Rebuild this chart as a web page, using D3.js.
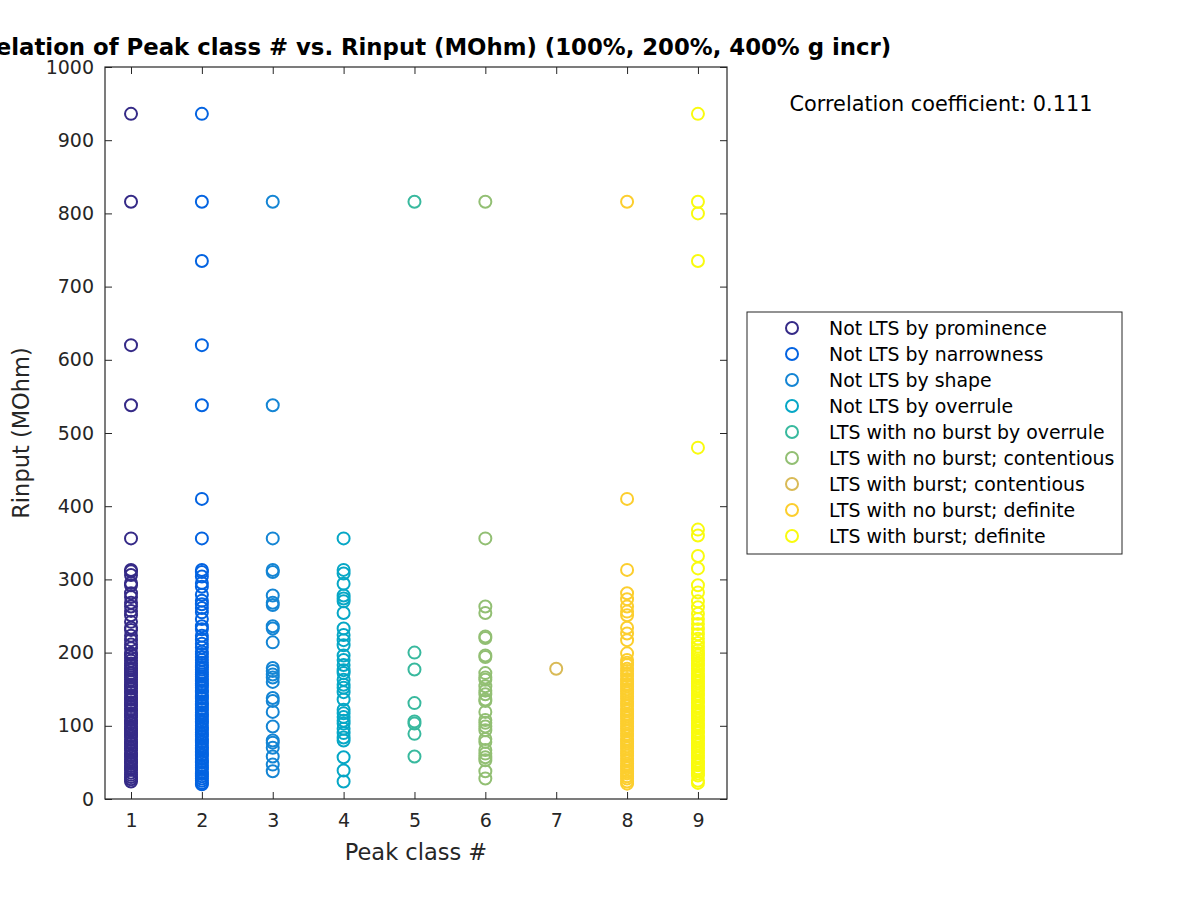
<!DOCTYPE html>
<html>
<head>
<meta charset="utf-8">
<script src="https://cdn.jsdelivr.net/npm/d3@7"></script>
<style>
  body { margin: 0; background: #fff; }
  svg { font-family: "DejaVu Sans", sans-serif; }
</style>
</head>
<body>
<svg id="chart" width="1200" height="900"></svg>
<script>
const classNames = [
  "Not LTS by prominence",
  "Not LTS by narrowness",
  "Not LTS by shape",
  "Not LTS by overrule",
  "LTS with no burst by overrule",
  "LTS with no burst; contentious",
  "LTS with burst; contentious",
  "LTS with no burst; definite",
  "LTS with burst; definite"
];

const classColors = ["#352A87", "#0363E1", "#1485D4", "#06A7C6", "#38B99E",
                     "#92BF73", "#D9BA56", "#FCCE2E", "#F9FB0E"];

const xTicks = [1, 2, 3, 4, 5, 6, 7, 8, 9];
const yTicks = [0, 100, 200, 300, 400, 500, 600, 700, 800, 900, 1000];

// Rinput values per peak class
const class1 = [936, 816, 620, 538, 356, 313, 311, 306, 295, 292, 281, 276, 268, 263, 257, 251,
  242, 234, 231, 223, 217, 211, 206, 199, 197, 193, 189, 185, 182, 179, 176, 172, 169, 166, 163,
  160, 156, 154, 151, 147, 145, 141, 138, 136, 132, 129, 127, 123, 121, 117, 114, 112, 108, 105,
  103, 99, 96, 94, 90, 87, 85, 81, 78, 76, 72, 69, 67, 63, 60, 58, 54, 51, 49, 45, 42, 40, 36,
  33, 30, 27, 24];
const class2 = [936, 816, 735, 620, 538, 410, 356, 313, 310, 304, 295, 290, 279, 271, 266, 261,
  255, 246, 236, 232, 223, 218, 212, 207, 201, 198, 194, 190, 186, 183, 180, 177, 173, 170, 167,
  164, 161, 157, 155, 152, 148, 146, 142, 139, 137, 133, 130, 128, 124, 122, 118, 115, 113, 109,
  106, 104, 100, 97, 95, 91, 88, 86, 82, 79, 77, 73, 70, 68, 64, 61, 59, 55, 52, 50, 46, 43,
  41, 37, 34, 31, 28, 25, 22, 20];
const class3 = [816, 538, 356, 313, 310, 278, 268, 265, 236, 233, 214, 179, 175, 170, 166, 160,
  138, 134, 119, 99, 80, 77, 70, 58, 47, 38];
const class4 = [356, 313, 308, 294, 278, 274, 270, 254, 233, 224, 217, 210, 196, 190, 183, 176,
  172, 163, 156, 152, 146, 136, 122, 117, 112, 107, 103, 96, 90, 84, 80, 57, 39, 24];
const class5 = [816, 200, 177, 131, 106, 103, 89, 58];
const class6 = [816, 356, 263, 254, 222, 220, 196, 194, 172, 166, 163, 154, 148, 143, 136, 134,
  119, 108, 104, 99, 94, 82, 78, 67, 62, 57, 53, 38, 28];
const class7 = [178];
const class8 = [816, 410, 313, 281, 273, 263, 256, 251, 234, 226, 217, 199, 190, 186, 183, 178,
  175, 171, 168, 164, 161, 157, 154, 150, 147, 144, 140, 137, 133, 130, 127, 123, 120, 116, 113,
  110, 106, 103, 99, 96, 93, 89, 86, 82, 79, 76, 72, 69, 65, 62, 59, 55, 52, 48, 45, 42, 38, 35,
  31, 28, 24, 21];
const class9 = [936, 816, 800, 735, 480, 368, 360, 332, 315, 292, 282, 270, 262, 253, 246, 239,
  232, 225, 219, 213, 208, 203, 199, 196, 192, 189, 185, 182, 178, 175, 171, 168, 165, 161, 158,
  154, 151, 148, 144, 141, 137, 134, 131, 127, 124, 120, 117, 114, 110, 107, 103, 100, 97, 93,
  90, 86, 83, 80, 76, 73, 69, 66, 63, 59, 56, 52, 49, 46, 42, 39, 35, 32, 25, 22];

const classValues = [class1, class2, class3, class4, class5, class6, class7, class8, class9];
const corrCoeff = 0.111;

const svg = d3.select("#chart");
const axisColor = "#262626";
const plot = {left: 105, right: 727, top: 67, bottom: 799};

const x = d3.scaleLinear().domain([0.633, 9.41]).range([plot.left, plot.right]);
const y = d3.scaleLinear().domain([0, 1000]).range([plot.bottom, plot.top]);

// points
classValues.forEach((vals, i) => {
  svg.append("g")
    .selectAll("circle")
    .data(vals)
    .join("circle")
    .attr("cx", x(i + 1))
    .attr("cy", d => y(d))
    .attr("r", 6)
    .attr("fill", "none")
    .attr("stroke", classColors[i])
    .attr("stroke-width", 2);
});

// axes (ticks inside, box on)
const tickLen = 7;
const bottomAxis = d3.axisBottom(x).tickValues(xTicks).tickSizeInner(-tickLen).tickSizeOuter(0).tickPadding(15);
const leftAxis = d3.axisLeft(y).tickValues(yTicks).tickFormat(d3.format("d"))
  .tickSizeInner(-tickLen).tickSizeOuter(0).tickPadding(11);

svg.append("g").attr("transform", `translate(0,${plot.bottom})`).call(bottomAxis);
svg.append("g").attr("transform", `translate(${plot.left},0)`).call(leftAxis);
svg.append("g").attr("transform", `translate(0,${plot.top})`)
  .call(d3.axisTop(x).tickValues(xTicks).tickSizeInner(-tickLen).tickSizeOuter(0).tickFormat(""));
svg.append("g").attr("transform", `translate(${plot.right},0)`)
  .call(d3.axisRight(y).tickValues(yTicks).tickSizeInner(-tickLen).tickSizeOuter(0).tickFormat(""));

svg.selectAll(".domain").remove();
svg.selectAll(".tick line").attr("stroke", axisColor);
svg.selectAll(".tick text").attr("fill", axisColor).attr("font-size", 19)
  .attr("font-family", "DejaVu Sans, sans-serif");

svg.append("rect")
  .attr("x", plot.left).attr("y", plot.top)
  .attr("width", plot.right - plot.left).attr("height", plot.bottom - plot.top)
  .attr("fill", "none").attr("stroke", axisColor).attr("stroke-width", 1.2);

// labels
svg.append("text")
  .attr("x", (plot.left + plot.right) / 2).attr("y", 860)
  .attr("text-anchor", "middle").attr("font-size", 22.5).attr("fill", axisColor)
  .text("Peak class #");

svg.append("text")
  .attr("transform", `translate(29,${(plot.top + plot.bottom) / 2}) rotate(-90)`)
  .attr("text-anchor", "middle").attr("font-size", 22.5).attr("fill", axisColor)
  .text("Rinput (MOhm)");

svg.append("text")
  .attr("x", (plot.left + plot.right) / 2).attr("y", 55)
  .attr("text-anchor", "middle").attr("font-size", 22.8).attr("font-weight", "bold")
  .attr("fill", "#000")
  .text("Correlation of Peak class # vs. Rinput (MOhm) (100%, 200%, 400% g incr)");

svg.append("text")
  .attr("x", 941).attr("y", 111)
  .attr("text-anchor", "middle").attr("font-size", 20.8).attr("fill", "#000")
  .text(`Correlation coefficient: ${corrCoeff}`);

// legend
const legend = svg.append("g").attr("transform", "translate(747,312)");
legend.append("rect")
  .attr("width", 375).attr("height", 242)
  .attr("fill", "#fff").attr("stroke", axisColor).attr("stroke-width", 1);

const rows = legend.selectAll("g.row")
  .data(classNames)
  .join("g")
  .attr("class", "row")
  .attr("transform", (d, i) => `translate(0,${16 + i * 26})`);

rows.append("circle")
  .attr("cx", 45).attr("cy", 0).attr("r", 6)
  .attr("fill", "none").attr("stroke-width", 2)
  .attr("stroke", (d, i) => classColors[i]);

rows.append("text")
  .attr("x", 82).attr("y", 7)
  .attr("font-size", 18.9).attr("fill", "#000")
  .text(d => d);
</script>
</body>
</html>
